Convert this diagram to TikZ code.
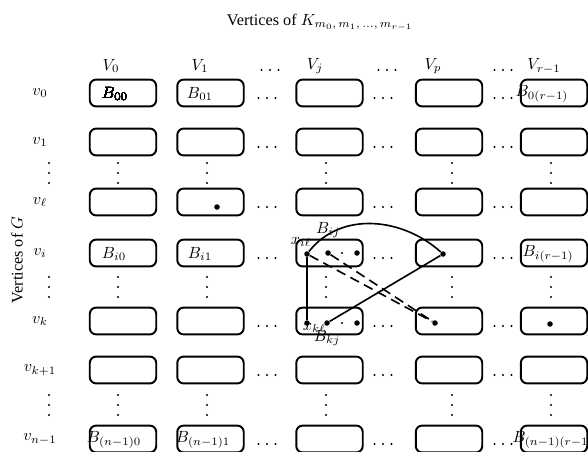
\documentclass[tikz,border=0pt]{standalone}
\usepackage{fontspec}
\setmainfont{Liberation Serif}
\usetikzlibrary{positioning, calc}
\tikzset{
  blockbox/.style={draw, line width=1.2pt, rounded corners=4pt,
                   minimum width=41pt, minimum height=16.6pt, inner sep=0pt},
  vtx/.style={circle, fill, inner sep=0pt, minimum size=3.4pt},
  edgeline/.style={line width=1pt},
  crossline/.style={edgeline, dash pattern=on 6pt off 3.5pt},
}
\newcommand{\hdotsat}[2]{%
  \foreach \dx in {-8.5,0,8.5} \fill (#1+\dx,#2) circle[radius=0.65pt];}
\newcommand{\vdotsat}[2]{%
  \foreach \dy in {-10,0,10} \fill (#1,#2+\dy) circle[radius=0.65pt];}

\begin{document}
\begin{tikzpicture}[x=0.617pt, y=-0.617pt]
  \useasboundingbox (0,0) rectangle (588,451);
  %% titles ─────────────────────────────────────────────
  \node (title) at (320,22) {Vertices of $K_{m_0,\, m_1,\, \dots,\, m_{r-1}}$};
  \node[rotate=90] (gtitle) at (17,260) {Vertices of $G$};
  %% column heads ───────────────────────────────────────
  \node (V0) at (111,66) {$V_0$};
  \node (V1) at (200,66) {$V_1$};
  \node (Vj) at (315,66) {$V_j$};
  \node (Vp) at (433,66) {$V_p$};
  \node (Vr) at (544,66) {$V_{r-1}$};
  \hdotsat{270}{70} \hdotsat{387}{70} \hdotsat{503}{70}
  %% grid of blocks ─────────────────────────────────────
  \foreach \r/\y/\lab in {0/93/v_0, 1/142/v_1, l/202/v_\ell, i/253/v_i,
                          k/321/v_k, kk/370/v_{k+1}, n/439/v_{n-1}}{
    \node (row\r) at (40,\y) {$\lab$};
    \foreach \c/\x in {0/123, 1/210.5, j/329.5, p/449, r/554}
      \node[blockbox] (blk-\r-\c) at (\x,\y) {};
    \hdotsat{267}{\y+5} \hdotsat{383}{\y+5} \hdotsat{503}{\y+5}
  }
  \foreach \y in {173,287,405}
    \foreach \x in {49,118,207,326,452,551}
      \vdotsat{\x}{\y}
  %% block labels ───────────────────────────────────────
  \node (lab00) at (115,94) {$B_{00}$};
  \node (lab01) at (200,94) {$B_{01}$};
  \node (lab0r) at (542,94) {$B_{0(r-1)}$};
  \node (labi0) at (114,254) {$B_{i0}$};
  \node (labi1) at (200,254) {$B_{i1}$};
  \node (labir) at (548,254) {$B_{i(r-1)}$};
  \node (labn0) at (114,440) {$B_{(n-1)0}$};
  \node (labn1) at (203,440) {$B_{(n-1)1}$};
  \node (labnr) at (553,440) {$B_{(n-1)(r-1)}$};
  %% vertices inside blocks ─────────────────────────────
  \node[vtx] (xil) at (307,254) {};
  \node[vtx] (ai2) at (328,253) {};
  \node[vtx] (ai3) at (357,253) {};
  \node[vtx] (xkl) at (307,323) {};
  \node[vtx] (ak2) at (327,323) {};
  \node[vtx] (ak3) at (357,323) {};
  \fill (342,253) circle[radius=0.65pt];
  \fill (342,323) circle[radius=0.65pt];
  \node[vtx] (ypi) at (443,254) {};
  \node[vtx] (ypk) at (435,323) {};
  \node[vtx] (u1l) at (217,207) {};
  \node[vtx] (urk) at (550,324) {};
  %% edges ──────────────────────────────────────────────
  \draw[edgeline] (xil) -- (xkl);
  \draw[edgeline] (ak2) -- (ypi);
  \draw[edgeline] (xil) to[out=52, in=138] (ypi);
  \draw[crossline] (xil) -- (ypk);
  \draw[crossline] (ai2) -- (ypk);
  \node[above=0pt of xil, xshift=-3.7pt, yshift=-1pt] (lxil) {$x_{i\ell}$};
  \node[right=-8pt of xkl, yshift=-3pt] (lxkl) {$x_{k\ell}$};
  \node (lBij) at (328,230) {$B_{ij}$};
  \node (lBkj) at (327,338) {$B_{kj}$};
\end{tikzpicture}
\end{document}
